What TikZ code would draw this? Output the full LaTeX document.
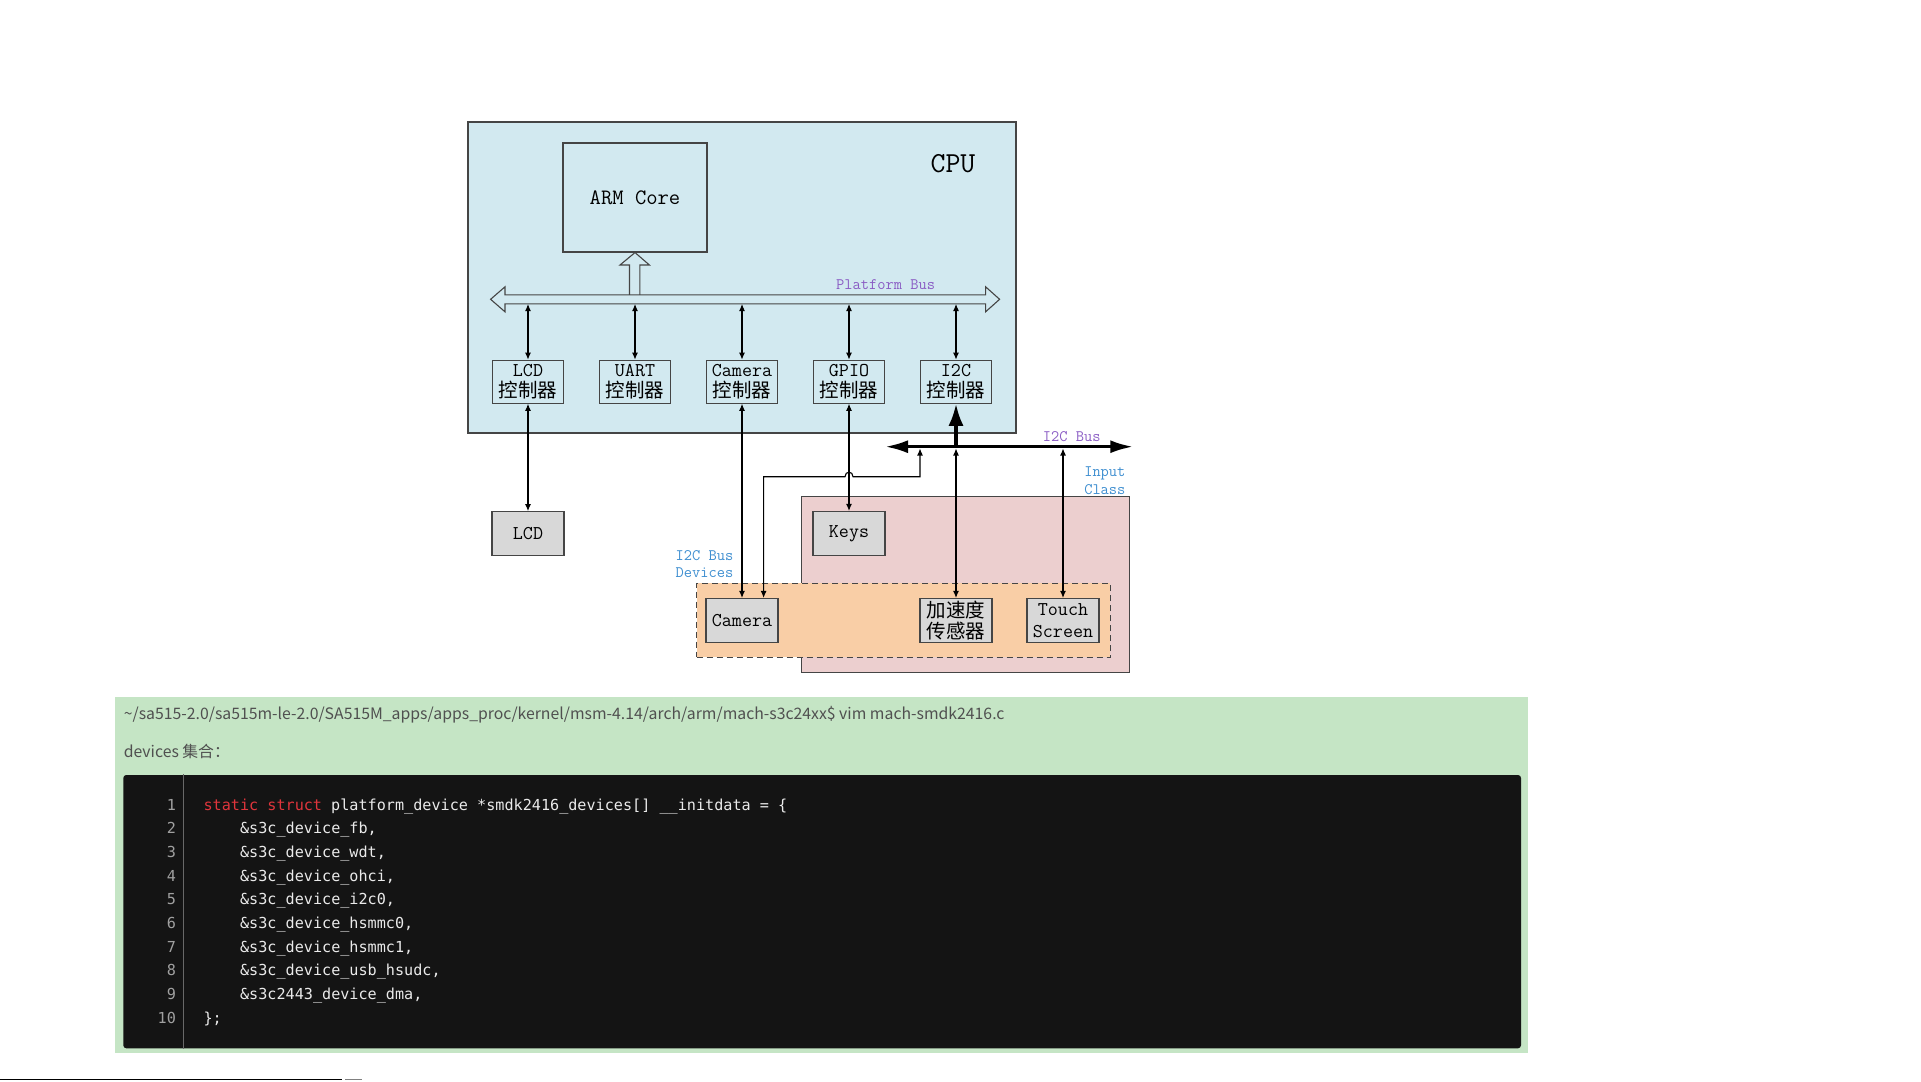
\documentclass[tikz,border=0pt]{standalone}
\usepackage{fontspec}
\usepackage{tikz}
\usetikzlibrary{arrows.meta}
\newfontfamily\cjk{Noto Sans CJK SC}
\newfontfamily\codefont{DejaVu Sans Mono}
\definecolor{cpublue}{HTML}{D2E9F0}
\definecolor{devgray}{HTML}{D8D8D8}
\definecolor{inpink}{HTML}{ECCFCF}
\definecolor{i2corange}{HTML}{F9CEA6}
\definecolor{buspurple}{HTML}{8A5CC4}
\definecolor{lblblue}{HTML}{3E8ED0}
\definecolor{pagegreen}{HTML}{C5E5C5}
\definecolor{codebg}{HTML}{141414}
\definecolor{codered}{HTML}{E0353C}
\definecolor{codetxt}{HTML}{EAEAEA}
\definecolor{linenum}{HTML}{A0A0A0}
\definecolor{edge}{HTML}{454545}
\definecolor{hdgray}{HTML}{505050}
\begin{document}
\begin{tikzpicture}[x=1pt,y=-1pt,line width=1.1pt,
  ctrl/.style={draw=edge,minimum width=71pt,minimum height=43pt,inner sep=0pt,align=center,font=\fontsize{19.5}{21.7}\selectfont\ttfamily},
  dev/.style={ctrl,fill=devgray,minimum width=72pt,minimum height=44pt},
  lbl/.style={inner sep=0pt,font=\fontsize{16}{17.6}\selectfont\ttfamily},
  io/.style={{Latex[length=7pt,width=6pt]}-{Latex[length=7pt,width=6pt]}},
  fat/.style={line width=3.3pt}]
  \useasboundingbox (0,0) rectangle (1921,1081);
      \node[draw=edge,fill=cpublue,minimum width=548pt,minimum height=311pt] (cpu) at (742,277.5) {};
        \node[font=\fontsize{29}{32}\selectfont\ttfamily] (cpulbl) at (953,164) {CPU};
     \node[draw=edge,minimum width=144pt,minimum height=109pt,font=\fontsize{22}{26}\selectfont\ttfamily] (arm) at (635,197.5) {ARM Core};
  \coordinate (pbB) at (0,304);
  \coordinate (i2cL) at (885,446.7);
  \coordinate (i2cR) at (1133.3,446.7);
  \coordinate (i2cB) at (0,448.5);
  \coordinate (camtap) at (920,448.5);
        \node[ctrl] (lcdc) at (528,381.7) {LCD\\{\cjk 控制器}};
      \node[ctrl] (uartc) at (635,381.7) {UART\\{\cjk 控制器}};
    \node[ctrl] (camc) at (742,381.7) {Camera\\{\cjk 控制器}};
      \node[ctrl] (gpioc) at (849,381.7) {GPIO\\{\cjk 控制器}};
        \node[ctrl] (i2cc) at (956,381.7) {I2C\\{\cjk 控制器}};
  \node[draw=edge,fill=inpink,minimum width=328pt,minimum height=175.6pt] (input) at (965.6,584.5) {};
  \node[draw=edge,dashed,dash pattern=on 6pt off 4pt,line width=1.5pt,fill=i2corange,minimum width=413.8pt,minimum height=74pt] (i2cdev) at (903.5,620.3) {};
     \node[dev] (lcd) at (528,533.7) {LCD};
       \node[dev] (keys) at (849,533.5) {Keys};
    \node[dev] (cam) at (742,620.5) {Camera};
        \node[dev] (accel) at (956,620.5) {{\cjk 加速度}\\{\cjk 传感器}};
      \node[dev] (touch) at (1063,620.5) {Touch\\Screen};
  \draw[edge] (490.6,299.3)--(505,286.8)--(505,294.8)--(985.6,294.8)--(985.6,286.8)--(999.6,299.3)--(985.6,311.8)--(985.6,303.8)--(505,303.8)--(505,311.8)--cycle;
  \draw[edge] (629.5,294.8)--(629.5,265)--(620,265)--(arm.south)--(649.4,265)--(639.9,265)--(639.9,294.8);
  \draw[io] (lcdc.north |- pbB)--(lcdc.north);
  \draw[io] (uartc.north |- pbB)--(uartc.north);
  \draw[io] (camc.north |- pbB)--(camc.north);
  \draw[io] (gpioc.north |- pbB)--(gpioc.north);
  \draw[io] (i2cc.north |- pbB)--(i2cc.north);
  \draw[io] (lcdc)--(lcd);
  \draw[io] (camc)--(cam);
  \draw[io] (gpioc)--(keys);
  \draw[fat,{Latex[length=23pt,width=13pt]}-{Latex[length=23pt,width=13pt]}] (i2cL)--(i2cR);
  \draw[fat,-{Latex[length=22pt,width=15pt]}] (i2cc.south |- i2cL)--(i2cc.south);
  \draw[io] (accel.north |- i2cB)--(accel.north);
  \draw[io] (touch.north |- i2cB)--(touch.north);
  \draw[io] (camtap)--(920,476.7)--(853,476.7) .. controls (853,470.7) and (845,470.7) .. (845,476.7)--(763.6,476.7)--([xshift=21.6pt]cam.north);
  \node[lbl,text=buspurple] (pblbl) at (885.6,285) {Platform Bus};
  \node[lbl,text=buspurple] (i2clbl) at (1071.7,436.7) {I2C Bus};
  \node[lbl,text=lblblue,align=right,anchor=east] (inlbl) at (1126,480.5) {Input\\Class};
  \node[lbl,text=lblblue,align=left,anchor=west] (devlbl) at (675,564) {I2C Bus\\Devices};
  \node[fill=pagegreen,minimum width=1413pt,minimum height=356.3pt,inner sep=0pt] (page) at (821.5,874.85) {};
  \node[fill=codebg,rounded corners=3pt,minimum width=1397.7pt,minimum height=273.3pt,inner sep=0pt] (code) at (822.15,911.65) {};
  \draw[draw=linenum!60!codebg,line width=1pt] ([xshift=61pt]code.north west)--([xshift=61pt]code.south west);
  \node[anchor=west,inner sep=0pt,text=hdgray,font=\fontsize{15.8}{17}\selectfont\cjk] (path) at (123.3,715) {\textasciitilde/sa515-2.0/sa515m-le-2.0/SA515M\_apps/apps\_proc/kernel/msm-4.14/arch/arm/mach-s3c24xx\$ vim mach-smdk2416.c};
  \node[anchor=west,inner sep=0pt,text=hdgray,font=\fontsize{15.8}{17}\selectfont\cjk] (devs) at (123.3,751.7) {devices 集合：};
  \node[anchor=base east,align=right,inner sep=0pt,text=linenum,font=\fontsize{15.15}{23.7}\selectfont\codefont] (nums) at (176.5,1023.3) {1\\2\\3\\4\\5\\6\\7\\8\\9\\10};
  \node[anchor=base west,align=left,inner sep=0pt,text=codetxt,font=\fontsize{15.15}{23.7}\selectfont\codefont] (src) at (203,1023.3) {\textcolor{codered}{static struct} platform\_device *smdk2416\_devices[] \_\_initdata = \{\\
\hspace*{36.5pt}\&s3c\_device\_fb,\\
\hspace*{36.5pt}\&s3c\_device\_wdt,\\
\hspace*{36.5pt}\&s3c\_device\_ohci,\\
\hspace*{36.5pt}\&s3c\_device\_i2c0,\\
\hspace*{36.5pt}\&s3c\_device\_hsmmc0,\\
\hspace*{36.5pt}\&s3c\_device\_hsmmc1,\\
\hspace*{36.5pt}\&s3c\_device\_usb\_hsudc,\\
\hspace*{36.5pt}\&s3c2443\_device\_dma,\\
\};};
  \draw[line width=1pt] (0,1079.5)--(341.7,1079.5);
  \draw[line width=1pt,gray] (345,1079.5)--(361.7,1079.5);
   \end{tikzpicture}
\end{document}
